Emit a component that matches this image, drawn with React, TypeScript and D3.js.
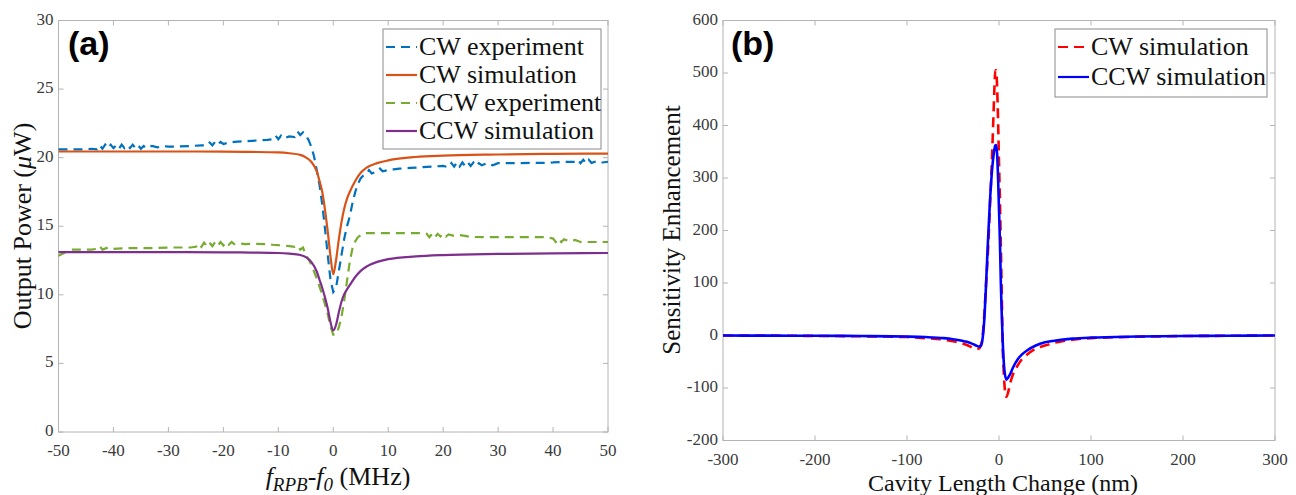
import React from 'react';
import * as d3 from 'd3';

type Pt = [number, number];

// panel (a): output power vs frequency offset (MHz, µW)
const cwExperiment: Pt[] = [
  [-50, 20.6], [-48, 20.6], [-46, 20.6], [-45, 20.62], [-44, 20.65], [-43, 20.6], [-42.5, 20.9], [-42, 20.65],
  [-41.5, 20.95], [-41, 20.7], [-40.5, 20.95], [-40, 20.7], [-39.5, 20.9], [-39, 20.65], [-38.5, 20.95], [-38, 20.7],
  [-37.5, 20.9], [-37, 20.7], [-36.5, 20.95], [-36, 20.7], [-35.5, 20.9], [-35, 20.65], [-34.5, 20.85], [-34, 20.7],
  [-33, 20.85], [-32, 20.75], [-31, 20.85], [-30, 20.8], [-28, 20.82], [-26, 20.85], [-24, 20.9], [-23, 20.88],
  [-22.5, 21.1], [-22, 20.9], [-21.5, 21.15], [-21, 20.95], [-20.5, 21.15], [-20, 21.0], [-19, 21.1], [-18, 21.15],
  [-16, 21.2], [-14, 21.25], [-12, 21.3], [-11, 21.35], [-10.5, 21.6], [-10, 21.35], [-9.5, 21.6], [-9, 21.4],
  [-8, 21.55], [-7, 21.5], [-6.5, 21.9], [-6, 21.65], [-5.5, 21.85], [-5, 21.6], [-4.5, 21.3], [-4, 20.8],
  [-3.5, 20.1], [-3, 19.1], [-2.5, 18.0], [-2, 16.6], [-1.5, 14.8], [-1, 12.9], [-0.5, 11.1], [0, 10.2],
  [0.5, 10.5], [1, 11.7], [1.5, 12.9], [2, 14.1], [2.5, 15.0], [3, 15.7], [3.5, 16.7], [4, 17.5],
  [4.5, 18.1], [5, 18.5], [5.5, 18.7], [6, 18.8], [6.5, 19.1], [7, 18.85], [8, 19.0], [8.5, 19.2],
  [9, 19.0], [10, 19.1], [11, 19.15], [12, 19.2], [14, 19.25], [16, 19.3], [18, 19.35], [20, 19.4],
  [21, 19.3], [21.5, 19.6], [22, 19.35], [22.5, 19.65], [23, 19.35], [23.5, 19.65], [24, 19.4], [24.5, 19.65],
  [25, 19.4], [25.5, 19.65], [26, 19.4], [26.5, 19.6], [27, 19.45], [28, 19.6], [29, 19.45], [30, 19.6],
  [32, 19.6], [34, 19.6], [36, 19.62], [38, 19.62], [40, 19.65], [42, 19.7], [44, 19.7], [44.5, 19.85],
  [45, 19.6], [45.5, 19.85], [46, 19.6], [46.5, 19.85], [47, 19.62], [48, 19.75], [49, 19.65], [50, 19.7],
];

const ccwExperiment: Pt[] = [
  [-50, 12.85], [-49, 13.05], [-48, 13.3], [-46, 13.3], [-44, 13.3], [-43, 13.35], [-42.5, 13.55], [-42, 13.3],
  [-41, 13.45], [-40, 13.35], [-38, 13.4], [-36, 13.4], [-34, 13.4], [-32, 13.42], [-30, 13.45], [-28, 13.45],
  [-26, 13.45], [-25, 13.5], [-24.5, 13.75], [-24, 13.5], [-23.5, 13.8], [-23, 13.55], [-22.5, 13.8], [-22, 13.55],
  [-21.5, 13.85], [-21, 13.6], [-20.5, 13.85], [-20, 13.6], [-19.5, 13.85], [-19, 13.65], [-18.5, 13.85], [-18, 13.7],
  [-17, 13.75], [-16, 13.7], [-14, 13.72], [-12, 13.7], [-11, 13.65], [-10, 13.62], [-9, 13.6], [-8, 13.55],
  [-7, 13.5], [-6.5, 13.6], [-6, 13.3], [-5.5, 13.45], [-5, 12.9], [-4.5, 12.6], [-4, 12.2], [-3.5, 11.7],
  [-3, 11.2], [-2.5, 10.6], [-2, 10.0], [-1.5, 9.3], [-1, 8.6], [-0.5, 7.7], [0, 7.1], [0.5, 7.1],
  [1, 7.6], [1.5, 8.4], [2, 9.6], [2.5, 11.0], [3, 12.4], [3.5, 13.4], [4, 13.9], [4.5, 14.2],
  [5, 14.35], [5.5, 14.45], [6, 14.5], [8, 14.5], [10, 14.5], [12, 14.5], [14, 14.5], [16, 14.5],
  [17, 14.45], [17.5, 14.2], [18, 14.45], [18.5, 14.2], [19, 14.45], [19.5, 14.25], [20, 14.45], [20.5, 14.25],
  [21, 14.4], [22, 14.3], [23, 14.35], [24, 14.3], [25, 14.22], [28, 14.2], [32, 14.2], [36, 14.2],
  [39, 14.2], [40, 14.1], [40.5, 13.85], [41, 14.1], [41.5, 13.85], [42, 14.05], [43, 13.9], [44, 14.0],
  [45, 13.85], [48, 13.85], [50, 13.85],
];

const cwSimulation: Pt[] = [
  [-50, 20.45], [-40, 20.45], [-30, 20.45], [-20, 20.44], [-15, 20.42], [-10, 20.38], [-8, 20.32], [-6, 20.2],
  [-5, 20.02], [-4, 19.7], [-3, 19.0], [-2.5, 18.3], [-2, 17.5], [-1.5, 16.2], [-1, 14.6], [-0.5, 12.8],
  [0, 11.5], [0.5, 12.5], [1, 14.0], [1.5, 15.3], [2, 16.3], [2.5, 17.0], [3, 17.5], [4, 18.3],
  [5, 18.9], [6, 19.25], [8, 19.6], [10, 19.8], [15, 20.05], [20, 20.15], [30, 20.23], [40, 20.28], [50, 20.3],
];

const ccwSimulation: Pt[] = [
  [-50, 13.12], [-40, 13.12], [-30, 13.12], [-20, 13.1], [-15, 13.08], [-10, 13.05], [-8, 13.0], [-6, 12.9],
  [-5, 12.75], [-4, 12.4], [-3, 11.7], [-2.5, 11.1], [-2, 10.5], [-1.5, 9.8], [-1, 9.0], [-0.5, 8.0],
  [0, 7.4], [0.5, 7.8], [1, 8.7], [1.5, 9.5], [2, 10.05], [2.5, 10.4], [3, 10.7], [4, 11.3],
  [5, 11.75], [6, 12.05], [8, 12.4], [10, 12.6], [15, 12.8], [20, 12.9], [30, 12.98], [40, 13.02], [50, 13.05],
];

// panel (b): sensitivity enhancement vs cavity length change (nm)
const cwSensitivity: Pt[] = [
  [-300, 0], [-250, -0.3], [-200, -0.8], [-150, -1.5], [-100, -3], [-80, -5], [-60, -8], [-50, -11],
  [-40, -15], [-35, -18], [-30, -22], [-25, -26], [-22, -25], [-20, -20], [-18, -5], [-16, 40],
  [-14, 100], [-12, 160], [-10, 240], [-8, 320], [-6, 420], [-5, 470], [-4, 505], [-3, 505],
  [-2, 470], [-1, 410], [0, 330], [1, 260], [2, 170], [3, 80], [4, -20], [5, -65],
  [6, -95], [7, -113], [8, -117], [10, -108], [12, -92], [15, -75], [20, -58], [25, -45],
  [30, -37], [40, -25], [50, -19], [60, -14], [80, -8], [100, -5], [150, -2.5], [200, -1],
  [250, -0.5], [300, 0],
];

const ccwSensitivity: Pt[] = [
  [-300, 0], [-250, -0.3], [-200, -0.5], [-150, -1], [-100, -2], [-80, -3], [-60, -5], [-50, -7],
  [-40, -10], [-35, -12], [-30, -15], [-25, -19], [-22, -21], [-20, -20], [-18, -8], [-16, 30],
  [-14, 100], [-12, 180], [-10, 250], [-8, 305], [-6, 342], [-4, 362], [-3, 363], [-2, 345],
  [-1, 300], [0, 240], [1, 180], [2, 100], [3, 40], [4, -10], [5, -45], [6, -68],
  [8, -84], [10, -80], [12, -74], [15, -62], [20, -46], [25, -36], [30, -29], [40, -19],
  [50, -13], [60, -10], [80, -6], [100, -4], [150, -2], [200, -1], [250, -0.5], [300, 0],
];

const freqTicks = [-50, -40, -30, -20, -10, 0, 10, 20, 30, 40, 50];
const powerTicks = [0, 5, 10, 15, 20, 25, 30];
const lengthTicks = [-300, -200, -100, 0, 100, 200, 300];
const sensTicks = [-200, -100, 0, 100, 200, 300, 400, 500, 600];

const legendA = [
  { name: 'CW experiment', color: '#0072BD', dash: '9,6' },
  { name: 'CW simulation', color: '#D95319', dash: null },
  { name: 'CCW experiment', color: '#77AC30', dash: '9,6' },
  { name: 'CCW simulation', color: '#7E2F8E', dash: null },
];
const legendB = [
  { name: 'CW simulation', color: '#FF0000', dash: '10,6' },
  { name: 'CCW simulation', color: '#0000FF', dash: null },
];

const SERIF = '"Liberation Serif", "Times New Roman", serif';
const SANS = '"Liberation Sans", Arial, sans-serif';
const AXIS = '#b4b4b4';
const LABEL = '#3a3a3a';

function Frame({ x, y, xTicks, yTicks, xLabelY }) {
  const [x0, x1] = x.range();
  const [y0, y1] = y.range();
  return (
    <g fontFamily={SERIF} fontSize={17} fill={LABEL}>
      {xTicks.map(t => (
        <g key={'x' + t}>
          <line x1={x(t)} x2={x(t)} y1={y0} y2={y0 - 5} stroke={AXIS} />
          <line x1={x(t)} x2={x(t)} y1={y1} y2={y1 + 5} stroke={AXIS} />
          <text x={x(t)} y={xLabelY} textAnchor="middle">{t}</text>
        </g>
      ))}
      {yTicks.map(t => (
        <g key={'y' + t}>
          <line x1={x0} x2={x0 + 5} y1={y(t)} y2={y(t)} stroke={AXIS} />
          <line x1={x1} x2={x1 - 5} y1={y(t)} y2={y(t)} stroke={AXIS} />
          <text x={x0 - 5} y={y(t) + 4} textAnchor="end">{t}</text>
        </g>
      ))}
      <rect x={x0} y={y1} width={x1 - x0} height={y0 - y1} fill="none" stroke={AXIS} />
    </g>
  );
}

function Legend({ items, left, top, width, rowH }) {
  return (
    <g fontFamily={SERIF} fontSize={26} fill="#111">
      <rect x={left} y={top} width={width} height={rowH * items.length + 8} fill="#fff" stroke="#8a8a8a" />
      {items.map((d, i) => {
        const cy = top + 18 + i * rowH;
        return (
          <g key={d.name}>
            <line x1={left + 3} x2={left + 34} y1={cy} y2={cy} stroke={d.color} strokeWidth={2.2}
              strokeDasharray={d.dash || undefined} />
            <text x={left + 36} y={cy + 8}>{d.name}</text>
          </g>
        );
      })}
    </g>
  );
}

export default function App() {
  const xa = d3.scaleLinear().domain([-50, 50]).range([58.5, 608]);
  const ya = d3.scaleLinear().domain([0, 30]).range([432, 20.5]);
  const xb = d3.scaleLinear().domain([-300, 300]).range([723, 1275]);
  const yb = d3.scaleLinear().domain([-200, 600]).range([440.5, 20.5]);

  const rawA = d3.line<Pt>().x(d => xa(d[0])).y(d => ya(d[1]));
  const smoothA = d3.line<Pt>().x(d => xa(d[0])).y(d => ya(d[1])).curve(d3.curveMonotoneX);
  const smoothB = d3.line<Pt>().x(d => xb(d[0])).y(d => yb(d[1])).curve(d3.curveMonotoneX);

  return (
    <svg width={1296} height={495} style={{ position: 'absolute', left: 0, top: 0, background: '#fff' }}>
      <rect width={1296} height={495} fill="#fff" />

      {/* panel (a) */}
      <Frame x={xa} y={ya} xTicks={freqTicks} yTicks={powerTicks} xLabelY={456} />
      <g fill="none" strokeWidth={2.2}>
        <path d={rawA(cwExperiment)} stroke="#0072BD" strokeDasharray="9,6" />
        <path d={smoothA(cwSimulation)} stroke="#D95319" />
        <path d={rawA(ccwExperiment)} stroke="#77AC30" strokeDasharray="9,6" />
        <path d={smoothA(ccwSimulation)} stroke="#7E2F8E" />
      </g>
      <Legend items={legendA} left={383} top={29} width={218} rowH={28} />
      <text x={68} y={55} fontFamily={SANS} fontWeight="bold" fontSize={34}>(a)</text>
      <text x={338} y={485} textAnchor="middle" fontFamily={SERIF} fontSize={26} fill="#111">
        <tspan fontStyle="italic">f</tspan>
        <tspan fontStyle="italic" fontSize={19} dy={6}>RPB</tspan>
        <tspan dy={-6}>-</tspan>
        <tspan fontStyle="italic">f</tspan>
        <tspan fontStyle="italic" fontSize={19} dy={6}>0</tspan>
        <tspan dy={-6}>{' (MHz)'}</tspan>
      </text>
      <text transform="translate(31,226) rotate(-90)" textAnchor="middle" fontFamily={SERIF} fontSize={26} fill="#111">
        Output Power (<tspan fontStyle="italic">μ</tspan>W)
      </text>

      {/* panel (b) */}
      <Frame x={xb} y={yb} xTicks={lengthTicks} yTicks={sensTicks} xLabelY={465} />
      <g fill="none" strokeWidth={2.6}>
        <path d={smoothB(cwSensitivity)} stroke="#FF0000" strokeDasharray="10,6" />
        <path d={smoothB(ccwSensitivity)} stroke="#0000FF" />
      </g>
      <Legend items={legendB} left={1055} top={29} width={212} rowH={30} />
      <text x={731} y={55} fontFamily={SANS} fontWeight="bold" fontSize={34}>(b)</text>
      <text x={1003} y={491} textAnchor="middle" fontFamily={SERIF} fontSize={24} fill="#111">
        Cavity Length Change (nm)
      </text>
      <text transform="translate(680,230) rotate(-90)" textAnchor="middle" fontFamily={SERIF} fontSize={25} fill="#111">
        Sensitivity Enhancement
      </text>
    </svg>
  );
}
